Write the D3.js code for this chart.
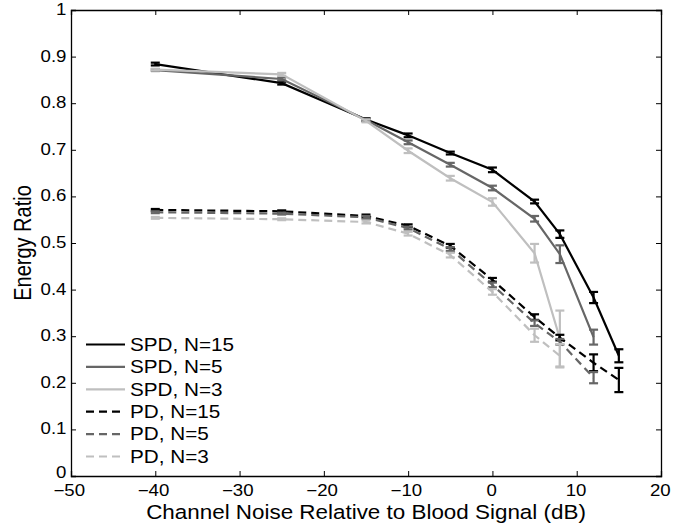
<!DOCTYPE html>
<html>
<head>
<meta charset="utf-8">
<script src="https://cdn.jsdelivr.net/npm/d3@7"></script>
<style>
  html, body { margin: 0; padding: 0; background: #fff; }
  svg { display: block; font-family: 'Liberation Sans', Arial, Helvetica, sans-serif; }
</style>
</head>
<body>
<svg id="chart" width="692" height="527"></svg>
<script>
// noise levels (dB)
var noiseDb = [-40, -25, -15, -10, -5, 0, 5, 8, 12, 15]

// energy ratio means and error half-widths
var spd15 = [0.884, 0.843, 0.765, 0.731, 0.693, 0.657, 0.589, 0.519, 0.383, 0.258]
var spd15Err = [0.003, 0.003, 0.003, 0.004, 0.003, 0.005, 0.004, 0.008, 0.012, 0.014]
var spd5 = [0.871, 0.852, 0.764, 0.716, 0.668, 0.618, 0.552, 0.476, 0.298]
var spd5Err = [0.002, 0.003, 0.003, 0.004, 0.004, 0.005, 0.006, 0.019, 0.016]
var spd3 = [0.872, 0.862, 0.762, 0.698, 0.639, 0.588, 0.478, 0.295]
var spd3Err = [0.002, 0.003, 0.003, 0.005, 0.005, 0.008, 0.02, 0.06]
var pd15 = [0.571, 0.568, 0.558, 0.537, 0.494, 0.421, 0.341, 0.297, 0.243, 0.206]
var pd15Err = [0.002, 0.002, 0.003, 0.003, 0.004, 0.004, 0.006, 0.006, 0.018, 0.026]
var pd5 = [0.566, 0.563, 0.555, 0.532, 0.487, 0.410, 0.328, 0.288, 0.211]
var pd5Err = [0.002, 0.002, 0.003, 0.003, 0.004, 0.005, 0.006, 0.006, 0.012]
var pd3 = [0.554, 0.551, 0.545, 0.520, 0.474, 0.395, 0.302, 0.258]
var pd3Err = [0.002, 0.002, 0.003, 0.004, 0.005, 0.006, 0.014, 0.025]

var seriesNames = ['SPD, N=15', 'SPD, N=5', 'SPD, N=3', 'PD, N=15', 'PD, N=5', 'PD, N=3']
var xTicks = [-50, -40, -30, -20, -10, 0, 10, 20]
var yTicks = [0, 0.1, 0.2, 0.3, 0.4, 0.5, 0.6, 0.7, 0.8, 0.9, 1]

var series = [
  { name: seriesNames[0], y: spd15, err: spd15Err, color: '#000000', dash: null },
  { name: seriesNames[1], y: spd5, err: spd5Err, color: '#666666', dash: null },
  { name: seriesNames[2], y: spd3, err: spd3Err, color: '#bfbfbf', dash: null },
  { name: seriesNames[3], y: pd15, err: pd15Err, color: '#000000', dash: '8,5' },
  { name: seriesNames[4], y: pd5, err: pd5Err, color: '#666666', dash: '8,5' },
  { name: seriesNames[5], y: pd3, err: pd3Err, color: '#bfbfbf', dash: '8,5' }
]

var margin = { left: 71, right: 31, top: 10, bottom: 51 }
var width = 692, height = 527
var stretch = 'scale(1.15,1)' // the original figure's glyphs are a little wide

var svg = d3.select('#chart')

var x = d3.scaleLinear().domain([-50, 20]).range([margin.left, width - margin.right])
var y = d3.scaleLinear().domain([0, 1]).range([height - margin.bottom, margin.top])

var fmt = function (d) { return d3.format('~g')(d).replace('-', '\u2212') }

// axes (ticks inward, box on)
var tickLen = 5
svg.append('g')
  .attr('transform', 'translate(0,' + y(0) + ')')
  .call(d3.axisBottom(x).tickValues(xTicks).tickSize(-tickLen).tickPadding(9).tickFormat(fmt))
  .selectAll('.tick text').attr('dx', function (d) { return d < 0 ? -2 : -1 })
svg.append('g')
  .attr('transform', 'translate(0,' + y(1) + ')')
  .call(d3.axisTop(x).tickValues(xTicks).tickSize(-tickLen).tickFormat(''))
svg.append('g')
  .attr('transform', 'translate(' + x(-50) + ',0)')
  .call(d3.axisLeft(y).tickValues(yTicks).tickSize(-tickLen).tickPadding(4).tickFormat(fmt))
  .selectAll('.tick text').attr('dy', function (d) { return d === 0 ? '0.1em' : '0.28em' })
svg.append('g')
  .attr('transform', 'translate(' + x(20) + ',0)')
  .call(d3.axisRight(y).tickValues(yTicks).tickSize(-tickLen).tickFormat(''))

svg.selectAll('.domain').attr('stroke', '#000').attr('stroke-width', 1.3)
svg.selectAll('.tick line').attr('stroke', '#000')
svg.selectAll('.tick text')
  .attr('font-size', 16.2)
  .attr('fill', '#000')
  .attr('font-family', "'Liberation Sans', Arial, Helvetica, sans-serif")
  .attr('transform', stretch)

// axis labels
svg.append('text')
  .attr('transform', 'translate(' + (x(-50) + x(20)) / 2 + ',518.5) ' + stretch)
  .attr('text-anchor', 'middle')
  .attr('font-size', 19.5)
  .text('Channel Noise Relative to Blood Signal (dB)')

svg.append('text')
  .attr('transform', 'translate(31,' + (y(0) + y(1)) / 2 + ') ' + stretch + ' rotate(-90)')
  .attr('text-anchor', 'middle')
  .attr('font-size', 20)
  .text('Energy Ratio')

// lines and error bars
var line = d3.line()
  .x(function (d) { return x(d.x) })
  .y(function (d) { return y(d.y) })

var capW = 4.5

series.forEach(function (s) {
  var pts = s.y.map(function (v, i) { return { x: noiseDb[i], y: v, e: s.err[i] } })
  var g = svg.append('g')

  g.append('path')
    .datum(pts)
    .attr('fill', 'none')
    .attr('stroke', s.color)
    .attr('stroke-width', 2.2)
    .attr('stroke-dasharray', s.dash)
    .attr('d', line)

  var eb = g.selectAll('g.eb')
    .data(pts)
    .join('g')
    .attr('stroke', s.color)
    .attr('stroke-width', 2.2)

  eb.append('line')
    .attr('x1', function (d) { return x(d.x) })
    .attr('x2', function (d) { return x(d.x) })
    .attr('y1', function (d) { return y(d.y - d.e) })
    .attr('y2', function (d) { return y(d.y + d.e) })
  eb.append('line')
    .attr('x1', function (d) { return x(d.x) - capW })
    .attr('x2', function (d) { return x(d.x) + capW })
    .attr('y1', function (d) { return y(d.y - d.e) })
    .attr('y2', function (d) { return y(d.y - d.e) })
  eb.append('line')
    .attr('x1', function (d) { return x(d.x) - capW })
    .attr('x2', function (d) { return x(d.x) + capW })
    .attr('y1', function (d) { return y(d.y + d.e) })
    .attr('y2', function (d) { return y(d.y + d.e) })
})

// legend, no box
var legend = svg.append('g')
  .selectAll('g')
  .data(series)
  .join('g')
  .attr('transform', function (d, i) { return 'translate(86,' + (344.5 + i * 22.4) + ')' })

legend.append('line')
  .attr('x1', 0)
  .attr('x2', 39)
  .attr('stroke', function (d) { return d.color })
  .attr('stroke-width', 2.2)
  .attr('stroke-dasharray', function (d) { return d.dash })

legend.append('text')
  .attr('transform', 'translate(44,6.3) ' + stretch)
  .attr('font-size', 18)
  .text(function (d) { return d.name })
</script>
</body>
</html>
